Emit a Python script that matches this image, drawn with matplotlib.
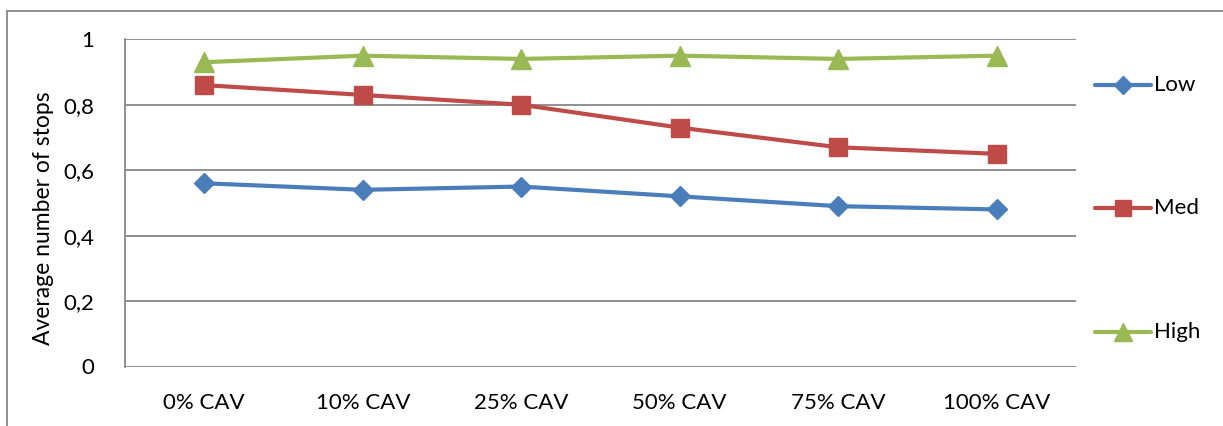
import matplotlib
matplotlib.use("Agg")
import matplotlib.pyplot as plt
from matplotlib.lines import Line2D

categories = ["0% CAV", "10% CAV", "25% CAV", "50% CAV", "75% CAV", "100% CAV"]
low = [0.56, 0.54, 0.55, 0.52, 0.49, 0.48]
med = [0.86, 0.83, 0.80, 0.73, 0.67, 0.65]
high = [0.93, 0.95, 0.94, 0.95, 0.94, 0.95]
yticks = [0, 0.2, 0.4, 0.6, 0.8, 1.0]
ytick_labels = ["0", "0,2", "0,4", "0,6", "0,8", "1"]

plt.rcParams['font.family'] = ['Lato', 'DejaVu Sans']
FS = 16

W, H = 1223, 426
fig = plt.figure(figsize=(W/100, H/100), dpi=100)
ax = fig.add_axes([125/W, 1-366.5/H, (1076-125)/W, (366.5-39.3)/H])

x = [i + 0.5 for i in range(len(categories))]
ax.plot(x, low, color="#4A7EBB", lw=3, marker="D", ms=10, label="Low", solid_capstyle="round")
ax.plot(x, med, color="#BE4B48", lw=3, marker="s", ms=13.5, label="Med", solid_capstyle="round")
ax.plot(x, high, color="#98B954", lw=3, marker="^", ms=14, label="High", solid_capstyle="round")

ax.set_xlim(0, len(categories))
ax.set_ylim(0, 1)
ax.set_yticks(yticks)
ax.set_yticklabels(ytick_labels, fontsize=FS)
ax.set_xticks(x)
ax.set_xticklabels(categories, fontsize=FS)
ax.tick_params(axis="both", length=0)
ax.tick_params(axis="y", pad=22)
ax.tick_params(axis="x", pad=19)
ax.grid(axis="y", color="#878787", lw=1.3)
ax.set_axisbelow(True)
for s in ["top", "right", "bottom"]:
    ax.spines[s].set_visible(False)
ax.spines["left"].set_color("#878787")
ax.spines["left"].set_linewidth(1.3)
fig.text(44/W, 1-218/H, "Average number of stops", fontsize=16.5, rotation=90,
         ha="center", va="center")

# legend entries placed manually (Excel-style spaced legend)
handles = ax.get_lines()
ys_leg = [85, 208, 332]
for h, yl in zip(handles, ys_leg):
    yf = 1 - yl/H
    fig.add_artist(Line2D([1095/W, 1151/W], [yf, yf], color=h.get_color(), lw=3,
                          solid_capstyle="round"))
    fig.add_artist(Line2D([1123/W], [yf], color=h.get_color(), marker=h.get_marker(),
                          ms=h.get_markersize() * 0.9, lw=0))
    fig.text(1154/W, yf, h.get_label(), fontsize=FS, va="center", ha="left")

# outer chart border
fig.add_artist(Line2D([7/W, 7/W], [0, 1-11/H], color="#888888", lw=1.3))
fig.add_artist(Line2D([7/W, 1], [1-11/H, 1-11/H], color="#888888", lw=1.3))

fig.savefig("out.png", dpi=100)
